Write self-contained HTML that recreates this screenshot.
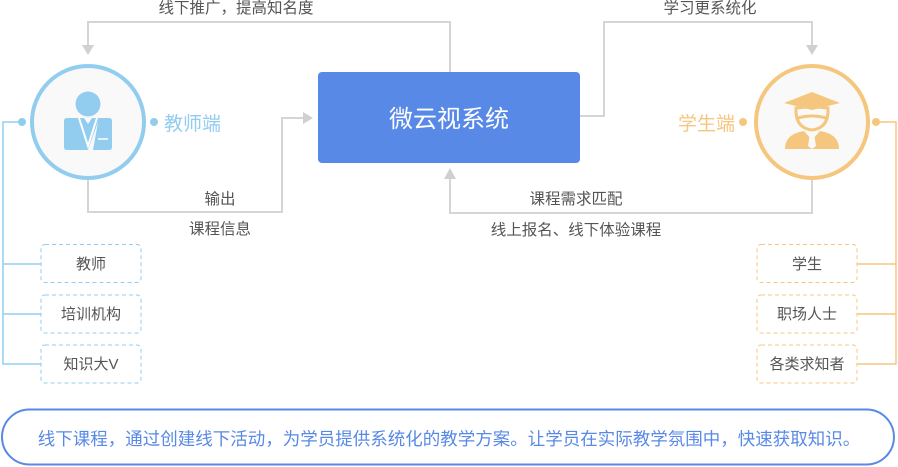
<!DOCTYPE html>
<html><head><meta charset="utf-8"><style>
html,body{margin:0;padding:0;background:#fff;width:898px;height:467px;overflow:hidden}
svg text{font-family:"Liberation Sans","Noto Sans CJK SC",sans-serif}
</style></head><body>
<svg width="898" height="467" viewBox="0 0 898 467" xmlns="http://www.w3.org/2000/svg">
<g fill="none" stroke="#d5d5d5" stroke-width="2">
<polyline points="450,72 450,22 88,22 88,46"/>
<polyline points="88,180 88,212 282,212 282,118 304,118"/>
<polyline points="580,116 604,116 604,22 812,22 812,46"/>
<polyline points="812,180 812,213 450,213 450,178"/>
</g>
<g fill="#d0d0d0">
<polygon points="82,45 94,45 88,55"/>
<polygon points="806,45 818,45 812,55"/>
<polygon points="303,112 303,124 313,118"/>
<polygon points="444,179 456,179 450,168"/>
</g>
<g font-size="15.5" fill="#555" text-anchor="middle">
<text x="236" y="13">线下推广，提高知名度</text>
<text x="710" y="13">学习更系统化</text>
<text x="220" y="204">输出</text>
<text x="220" y="234">课程信息</text>
<text x="576" y="204">课程需求匹配</text>
<text x="576" y="235">线上报名、线下体验课程</text>
</g>
<rect x="318" y="72" width="262" height="91" rx="4" fill="#5889e6"/>
<text x="449" y="127" font-size="24" fill="#fff" text-anchor="middle">微云视系统</text>
<!-- left -->
<polyline points="22,122 3,122 3,364 41,364" fill="none" stroke="#92cdf0" stroke-width="1.5"/>
<line x1="3" y1="264" x2="41" y2="264" stroke="#92cdf0" stroke-width="1.5"/>
<line x1="3" y1="314" x2="41" y2="314" stroke="#92cdf0" stroke-width="1.5"/>
<circle cx="22" cy="122" r="4" fill="#92cdf0"/>
<circle cx="154" cy="122" r="4" fill="#92cdf0"/>
<circle cx="88" cy="122" r="56" fill="#f9f9f9" stroke="#92cdf0" stroke-width="4"/>
<circle cx="88" cy="104" r="12.5" fill="#92cdf0"/>
<path d="M67,118 H84 L88,124 L92,118 H109 Q112,118 112,121 V147 Q112,150 109,150 H93 L98,122 L88,150 H67 Q64,150 64,147 V121 Q64,118 67,118Z" fill="#92cdf0"/>
<path d="M79,118 L88,146 L97,118" fill="none" stroke="#fff" stroke-width="2"/>
<line x1="98" y1="139" x2="108" y2="139" stroke="#fff" stroke-width="1.5"/>
<text x="164" y="130" font-size="19" fill="#92cdf0">教师端</text>
<g fill="#fff" stroke="#92cdf0" stroke-dasharray="4,3">
<rect x="41" y="244.5" width="100" height="38" rx="4"/>
<rect x="41" y="295" width="100" height="38" rx="4"/>
<rect x="41" y="345" width="100" height="38" rx="4"/>
</g>
<g font-size="15" fill="#555" text-anchor="middle">
<text x="91" y="269">教师</text>
<text x="91" y="319">培训机构</text>
<text x="91" y="369">知识大V</text>
</g>
<!-- right -->
<polyline points="876,122 896,122 896,364 857,364" fill="none" stroke="#f5c77e" stroke-width="1.5"/>
<line x1="857" y1="264" x2="896" y2="264" stroke="#f5c77e" stroke-width="1.5"/>
<line x1="857" y1="314" x2="896" y2="314" stroke="#f5c77e" stroke-width="1.5"/>
<circle cx="743" cy="122" r="4" fill="#f5c77e"/>
<circle cx="876" cy="122" r="4" fill="#f5c77e"/>
<circle cx="812" cy="122" r="56" fill="#f9f9f9" stroke="#f5c77e" stroke-width="4"/>
<polygon points="784,103 812,92 840,103 812,110" fill="#f5c77e"/>
<path d="M796,108 Q812,106 828,108 Q829,128 812,130 Q795,128 796,108Z" fill="none" stroke="#f5c77e" stroke-width="3"/>
<path d="M798,118 Q812,114 826,118" fill="none" stroke="#f5c77e" stroke-width="3"/>
<path d="M785,149 Q785,134 804,131 L812,140 L820,131 Q839,134 839,149Z" fill="#f5c77e"/>
<polygon points="810,133 814,133 816,146 812,149 808,146" fill="#f9f9f9"/>
<text x="735" y="130" font-size="19" fill="#f5c77e" text-anchor="end">学生端</text>
<g fill="#fff" stroke="#f5c77e" stroke-dasharray="4,3">
<rect x="757" y="244.5" width="100" height="38" rx="4"/>
<rect x="757" y="295" width="100" height="38" rx="4"/>
<rect x="757" y="345" width="100" height="38" rx="4"/>
</g>
<g font-size="15" fill="#555" text-anchor="middle">
<text x="807" y="269">学生</text>
<text x="807" y="319">职场人士</text>
<text x="807" y="369">各类求知者</text>
</g>
<rect x="2" y="409.5" width="892" height="55" rx="27.5" fill="#fff" stroke="#5889e6" stroke-width="2"/>
<text x="449" y="445" font-size="17.5" fill="#5889e6" text-anchor="middle">线下课程，通过创建线下活动，为学员提供系统化的教学方案。让学员在实际教学氛围中，快速获取知识。</text>
</svg>
</body></html>
